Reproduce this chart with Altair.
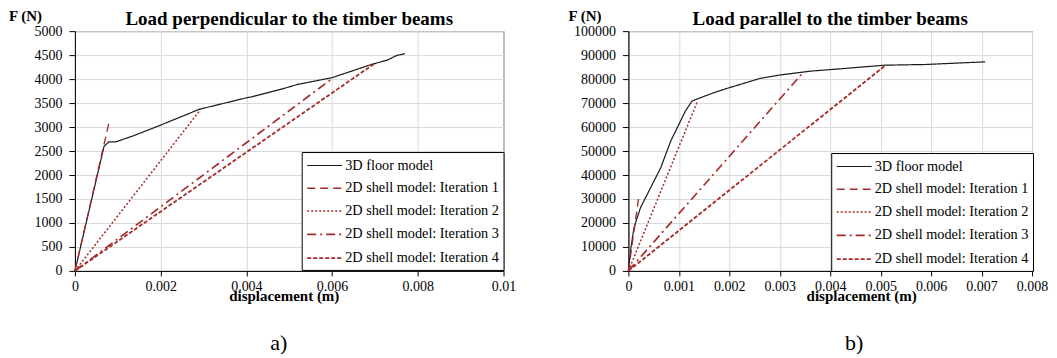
import altair as alt
import pandas as pd

series_names = [
    "3D floor model",
    "2D shell model: Iteration 1",
    "2D shell model: Iteration 2",
    "2D shell model: Iteration 3",
    "2D shell model: Iteration 4",
]
series_colors = ["#1a1a1a", "#a52a2a", "#a52a2a", "#a52a2a", "#a52a2a"]
series_dashes = [[1, 0], [8, 5], [2, 2], [9, 4, 2, 4], [4, 2]]
series_widths = [1.2, 1.8, 2.0, 1.8, 1.8]

# Panel a) load perpendicular to the timber beams
a_floor_disp = [0, 0.00068, 0.00079, 0.00095, 0.00134, 0.0020, 0.0029, 0.0035, 0.0040,
                0.0041, 0.0048, 0.0052, 0.0060, 0.0064, 0.0069, 0.0073, 0.0075, 0.0077]
a_floor_load = [0, 2600, 2690, 2690, 2810, 3040, 3370, 3500, 3610,
                3625, 3785, 3890, 4030, 4150, 4300, 4400, 4490, 4530]
a_iter_disp = [0.0008, 0.0029, 0.0060, 0.0070]
a_iter_load = [3110, 3330, 4010, 4330]

# Panel b) load parallel to the timber beams
b_floor_disp = [0, 0.00005, 0.00011, 0.00024, 0.00044, 0.00064, 0.00084, 0.0010, 0.00113,
                0.00126, 0.0014, 0.00169, 0.00195, 0.00222, 0.00261, 0.0030, 0.0036,
                0.00426, 0.00508, 0.0059, 0.00707]
b_floor_load = [0, 9700, 18000, 26400, 34700, 43000, 54200, 61100, 66700,
                70800, 72000, 74300, 76100, 77800, 80300, 81700, 83300,
                84400, 85800, 86100, 87200]
b_iter_disp = [0.0002, 0.00137, 0.00343, 0.0051]
b_iter_load = [30000, 70800, 82000, 85800]

a_xticks = [0, 0.002, 0.004, 0.006, 0.008, 0.01]
a_yticks = [0, 500, 1000, 1500, 2000, 2500, 3000, 3500, 4000, 4500, 5000]
b_xticks = [0, 0.001, 0.002, 0.003, 0.004, 0.005, 0.006, 0.007, 0.008]
b_yticks = [0, 10000, 20000, 30000, 40000, 50000, 60000, 70000, 80000, 90000, 100000]

SERIF = "Liberation Serif"


def build_df(floor_d, floor_f, it_d, it_f):
    rows = []
    for i, (d, f) in enumerate(zip(floor_d, floor_f)):
        rows.append({"disp": d, "load": f, "series": series_names[0], "idx": i})
    for k, (d, f) in enumerate(zip(it_d, it_f)):
        rows.append({"disp": 0, "load": 0, "series": series_names[k + 1], "idx": 0})
        rows.append({"disp": d, "load": f, "series": series_names[k + 1], "idx": 1})
    return pd.DataFrame(rows)


def panel(df, title, xticks, yticks, width, leg_x, leg_y, fn_x, tag, tag_x, xt_x):
    legend = alt.Legend(
        title=None, orient="none", legendX=leg_x, legendY=leg_y,
        symbolType="M-2,0H2", symbolSize=306, symbolOffset=9,
        labelFont=SERIF, labelFontSize=14.3, labelOffset=10.5,
        labelColor="black", labelLimit=300, strokeColor="black", fillColor="white",
        padding=4, rowPadding=5.8,
    )
    lines = alt.Chart(df).mark_line().encode(
        x=alt.X("disp:Q",
                scale=alt.Scale(domain=[xticks[0], xticks[-1]], nice=False),
                axis=alt.Axis(values=xticks, format="~g", title="displacement (m)", titleX=xt_x,
                              labelFlush=False, tickSize=5, labelPadding=4)),
        y=alt.Y("load:Q",
                scale=alt.Scale(domain=[yticks[0], yticks[-1]], nice=False),
                axis=alt.Axis(values=yticks, format="d", title=None,
                              labelFlush=False, tickSize=6, labelPadding=7)),
        color=alt.Color("series:N", scale=alt.Scale(domain=series_names, range=series_colors), legend=legend),
        strokeDash=alt.StrokeDash("series:N", scale=alt.Scale(domain=series_names, range=series_dashes), legend=legend),
        strokeWidth=alt.StrokeWidth("series:N", scale=alt.Scale(domain=series_names, range=series_widths), legend=legend),
        order="idx:Q",
    )
    fn = alt.Chart(pd.DataFrame({"t": ["F (N)"]})).mark_text(
        font=SERIF, fontSize=15, fontWeight="bold", align="left", baseline="middle", color="black"
    ).encode(text="t:N", x=alt.value(fn_x), y=alt.value(-15))
    tg = alt.Chart(pd.DataFrame({"t": [tag]})).mark_text(
        font=SERIF, fontSize=22, align="center", baseline="middle", color="black"
    ).encode(text="t:N", x=alt.value(tag_x), y=alt.value(312))
    return alt.layer(lines, fn, tg).properties(
        width=width, height=240,
        title=alt.TitleParams(title, font=SERIF, fontSize=19, fontWeight="bold",
                              color="black", anchor="middle", frame="group", offset=-19.5),
    ).resolve_scale(color="independent", strokeDash="independent", strokeWidth="independent")


df_a = build_df(a_floor_disp, a_floor_load, a_iter_disp, a_iter_load)
df_b = build_df(b_floor_disp, b_floor_load, b_iter_disp, b_iter_load)

left = panel(df_a, "Load perpendicular to the timber beams", a_xticks, a_yticks, 429, 227, 121, -66, "a)", 204, 209)
right = panel(df_b, "Load parallel to the timber beams", b_xticks, b_yticks, 404, 203, 122, -60, "b)", 226, 233)

chart = alt.hconcat(left, right, spacing=51).resolve_scale(
    color="independent", strokeDash="independent", strokeWidth="independent", x="independent", y="independent"
).resolve_legend(
    color="independent", strokeDash="independent", strokeWidth="independent"
).configure_view(
    stroke="#404040", strokeWidth=1
).configure_axis(
    domainColor="black", tickColor="black",
    labelFont=SERIF, labelFontSize=14, labelColor="black",
    titleFont=SERIF, titleFontSize=15, titleFontWeight="bold", titleColor="black", titlePadding=-5,
    gridColor="#d9d9d9", gridWidth=1,
).properties(padding=0, background="white")

chart.save("out.html", embed_options={"renderer": "svg", "actions": False})
